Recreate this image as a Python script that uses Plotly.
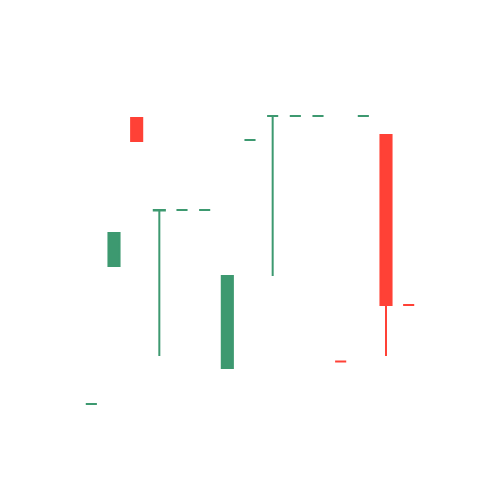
import plotly.graph_objects as go

x = list(range(15))
open_ = [10.0, 23.8, 38.6, 29.35, 29.4, 29.4, 13.6, 36.4, 38.8, 38.8, 38.8, 14.25, 38.8, 36.9, 19.9]
high = [10.0, 27.1, 38.6, 29.4, 29.4, 29.4, 22.8, 36.4, 38.8, 38.8, 38.8, 14.25, 38.8, 36.9, 19.9]
low = [10.0, 23.8, 36.3, 14.8, 29.4, 29.4, 13.6, 36.4, 22.8, 38.8, 38.8, 14.25, 38.8, 14.8, 19.9]
close = [10.0, 27.1, 36.3, 29.4, 29.4, 29.4, 22.8, 36.4, 38.8, 38.8, 38.8, 14.25, 38.8, 19.9, 19.9]

fig = go.Figure(go.Candlestick(x=x, open=open_, high=high, low=low, close=close,
                               increasing=dict(line=dict(color="#3D9970"), fillcolor="#3D9970"),
                               decreasing=dict(line=dict(color="#FF4136"), fillcolor="#FF4136")))
fig.update_layout(
    width=500, height=500,
    template="none",
    paper_bgcolor="white", plot_bgcolor="white",
    margin=dict(l=80, r=80, t=100, b=80),
    showlegend=False,
    xaxis=dict(visible=False, rangeslider=dict(visible=False)),
    yaxis=dict(visible=False),
)
fig.write_html("out.html")
